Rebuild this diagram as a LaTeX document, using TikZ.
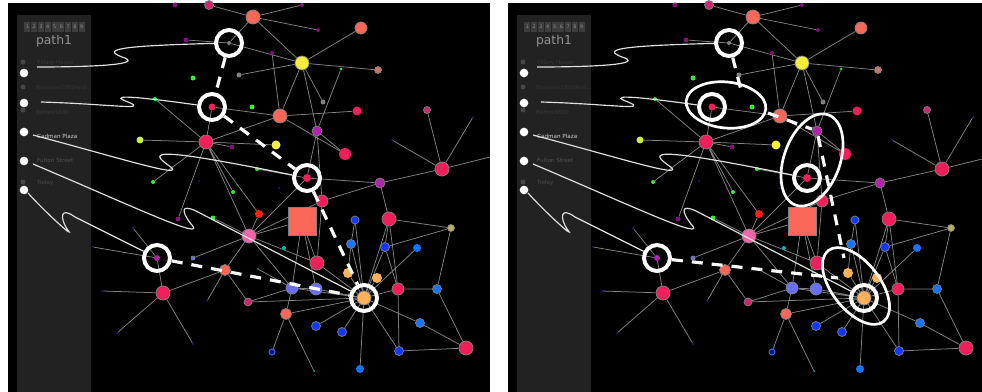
\documentclass[tikz,border=0pt]{standalone}
\usepackage{fontspec}
\setmainfont{DejaVu Sans}
\usetikzlibrary{positioning,shapes.geometric}

\definecolor{crim}{RGB}{242,30,92}
\definecolor{salm}{RGB}{250,102,88}
\definecolor{yel}{RGB}{246,238,60}
\definecolor{purp}{RGB}{176,36,170}
\definecolor{dpur}{RGB}{125,20,118}
\definecolor{grn}{RGB}{50,235,60}
\definecolor{lime}{RGB}{200,240,60}
\definecolor{gry}{RGB}{128,128,128}
\definecolor{blu}{RGB}{20,55,255}
\definecolor{azu}{RGB}{20,115,255}
\definecolor{peri}{RGB}{105,110,255}
\definecolor{orng}{RGB}{255,176,90}
\definecolor{hpink}{RGB}{245,100,170}
\definecolor{rdd}{RGB}{255,30,20}
\definecolor{oliv}{RGB}{185,175,95}
\definecolor{cyn}{RGB}{20,180,180}
\definecolor{nvy}{RGB}{30,30,160}
\definecolor{dpink}{RGB}{200,40,110}
\definecolor{bsalm}{RGB}{205,115,105}
\definecolor{side}{RGB}{34,34,34}
\definecolor{linkc}{RGB}{128,128,128}

\pgfdeclarelayer{back}
\pgfsetlayers{back,main}

\tikzset{
  vx/.style 2 args={circle,inner sep=0pt,fill=#1,draw=linkc,line width=0.6pt,minimum size=#2*0.6mm},
  sp/.style 2 args={circle,inner sep=0pt,fill=#1,minimum size=#2*0.6mm},
  lnk/.style={draw=linkc,line width=0.65pt},
  ring/.style={circle,draw=white,line width=3.4pt,inner sep=0pt,minimum size=7.8mm},
  trail/.style={draw=white,line width=2.7pt,dash pattern=on 3.3mm off 2.7mm},
  wire/.style={draw=white!88!black,line width=1pt},
  hull/.style={ellipse,draw=white,line width=2.3pt,inner sep=0pt},
  tag/.style={anchor=west,inner sep=0pt,font=\fontsize{4.8}{5}\selectfont},
  knob/.style={circle,fill=white,inner sep=0pt,minimum size=2.6mm},
  dimknob/.style={circle,fill=black!72,inner sep=0pt,minimum size=1.5mm}
}

\newcommand{\netpanel}{%
  \begin{pgfonlayer}{back}
    \fill[black] (8,3) rectangle (490,392);
    \fill[side] (17,15) rectangle (91,392);
  \end{pgfonlayer}
  % sidebar
  \foreach \k in {1,...,9}
    \node[fill=black!76,text=black!45,font=\fontsize{4.2}{5}\selectfont,
      minimum width=1.85mm,minimum height=3mm,inner sep=0pt] (pg\k) at ({20.6+6.8*\k},27) {\k};
  \node[text=black!42,font=\fontsize{10.5}{11}\selectfont] (title) at (54,41) {path1};
  \node[tag,text=black!78] (lb1) at (37,63) {Tillary House};
  \node[tag,text=black!80] (lb2) at (36,87) {Between1900And...};
  \node[tag,text=black!78] (lb3) at (36,112) {Before1800};
  \node[tag,text=black!18] (lb4) at (37,136) {Cadman Plaza};
  \node[tag,text=black!68] (lb5) at (37,160) {Fulton Street};
  \node[tag,text=black!72] (lb6) at (37,183) {Today};
  \node[dimknob] (d1) at (23,62) {};
  \node[dimknob] (d2) at (23,87) {};
  \node[dimknob] (d3) at (23,110) {};
  \node[dimknob] (d6) at (23,182) {};
  \node[knob] (k1) at (24,73) {};
  \node[knob] (k2) at (24,103) {};
  \node[knob] (k3) at (24,132) {};
  \node[knob] (k4) at (24,161) {};
  \node[knob] (k5) at (24,190) {};
  % network, top part
  \node[sp={dpur}{2.5}] (pu1) at (175,5) {};
  \node[vx={dpink}{4.5}] (sa0) at (209,5) {};
  \node[sp={dpur}{2.5}] (pu2) at (186,40) {};
  \node[sp={gry}{2}] (gy0) at (229,43) {};
  \node[sp={gry}{2.5}] (gr1) at (239,75) {};
  \node[sp={grn}{2.5}] (gn1) at (193,78) {};
  \node[sp={grn}{2}] (gn2) at (155,99) {};
  \node[sp={crim}{3.5}] (cr1) at (212,107) {};
  \node[vx={crim}{7}] (cr2) at (206,142) {};
  \node[sp={lime}{3.5}] (li1) at (140,140) {};
  \node[sp={dpur}{2.5}] (pu3) at (232,147) {};
  \node[sp={grn}{2}] (gn3) at (153,182) {};
  \node[sp={nvy}{1}] (nv1) at (199,181) {};
  \node[sp={grn}{2}] (gn4) at (233,192) {};
  \node[vx={salm}{7}] (sa1) at (253,17) {};
  \node[sp={dpur}{2}] (pu4) at (302,5) {};
  \node[sp={dpur}{2}] (pu5) at (318,30) {};
  \node[vx={salm}{6}] (sa2) at (361,28) {};
  \node[sp={dpur}{2}] (pu6) at (272,53) {};
  \node[vx={yel}{7}] (ye1) at (302,63) {};
  \node[sp={grn}{1.5}] (gn5) at (341,69) {};
  \node[vx={bsalm}{3.5}] (br1) at (378,70) {};
  \node[sp={grn}{2.5}] (gn6) at (252,107) {};
  \node[sp={gry}{2.5}] (gy2) at (323,102) {};
  \node[vx={salm}{7}] (sa3) at (280,116) {};
  \node[sp={crim}{4.5}] (cr3) at (357,111) {};
  \node[vx={purp}{5}] (pu7) at (317,131) {};
  \node[vx={dpink}{3.5}] (dp1) at (427,110) {};
  \node[sp={nvy}{1}] (nv2) at (473,117) {};
  \node[sp={yel}{4.5}] (ye2) at (276,145) {};
  \node[sp={crim}{6}] (cr4) at (345,154) {};
  \node[sp={nvy}{1}] (nv3) at (392,140) {};
  \node[sp={grn}{2}] (gn7) at (257,169) {};
  \node[sp={crim}{4}] (cr5) at (307,178) {};
  \node[vx={purp}{5}] (pu8) at (380,183) {};
  \node[vx={crim}{7}] (cr6) at (442,169) {};
  \node[sp={nvy}{1}] (nv4) at (279,188) {};
  \node[vx={crim}{6}] (cr7) at (322,201) {};
  \coordinate (rim) at (490,157);
  % network, lower part
  \node[sp={dpur}{2.5}] (pu9) at (178,219) {};
  \node[sp={grn}{2.5}] (gn8) at (213,218) {};
  \node[vx={hpink}{7}] (hp1) at (249,236) {};
  \node[sp={nvy}{1}] (nv5) at (133,228) {};
  \node[sp={nvy}{1}] (nv6) at (93,247) {};
  \node[sp={purp}{3}] (pu10) at (157,258) {};
  \node[vx={peri}{2}] (bl1) at (193,258) {};
  \node[vx={salm}{5.5}] (sa4) at (225,270) {};
  \node[vx={crim}{7}] (cr8) at (163,293) {};
  \node[sp={nvy}{1}] (nv7) at (102,291) {};
  \node[sp={nvy}{1}] (nv8) at (207,301) {};
  \node[vx={dpink}{4}] (dp2) at (248,302) {};
  \node[sp={nvy}{1}] (nv9) at (117,333) {};
  \node[sp={nvy}{1}] (nv10) at (193,344) {};
  \node[sp={rdd}{4}] (rd1) at (259,214) {};
  \node[draw=linkc,fill=salm,line width=0.8pt,inner sep=0pt,minimum size=8.4mm] (sq) at (302,221) {};
  \node[vx={blu}{4}] (bl2) at (355,220) {};
  \node[vx={crim}{7}] (cr9) at (389,219) {};
  \node[vx={oliv}{3.5}] (ol1) at (451,228) {};
  \node[sp={cyn}{2}] (cy1) at (284,248) {};
  \node[vx={azu}{4.5}] (az1) at (351,244) {};
  \node[vx={blu}{4.5}] (bl3) at (385,247) {};
  \node[sp={azu}{4}] (az2) at (417,248) {};
  \node[vx={crim}{7}] (cr10) at (317,263) {};
  \node[sp={cyn}{1}] (cy2) at (258,269) {};
  \node[sp={orng}{5}] (or1) at (348,273) {};
  \node[sp={orng}{5}] (or2) at (377,278) {};
  \node[vx={peri}{6}] (pw1) at (292,288) {};
  \node[vx={peri}{6}] (pw2) at (316,289) {};
  \node[vx={crim}{6}] (cr11) at (398,289) {};
  \node[vx={azu}{4.5}] (az3) at (437,289) {};
  \node[vx={orng}{7}] (or3) at (364,298) {};
  \node[vx={salm}{5.5}] (sa5) at (286,314) {};
  \node[vx={azu}{4.5}] (az4) at (420,323) {};
  \node[vx={blu}{4.5}] (bl4) at (316,326) {};
  \node[vx={blu}{4.5}] (bl5) at (342,332) {};
  \node[circle,fill=blu!45!black,draw=blu!80,line width=0.8pt,inner sep=0pt,minimum size=1.8mm] (bl6) at (272,352) {};
  \node[vx={blu}{4.5}] (bl7) at (399,351) {};
  \node[vx={crim}{7}] (cr12) at (466,348) {};
  \node[sp={azu}{4}] (az5) at (360,369) {};
  \node[sp={cyn}{1}] (cy3) at (314,371) {};
  % links
  \begin{pgfonlayer}{back}
    \draw[lnk] (gy0) -- (sa1) (gy0) -- (ye1) (pu2) -- (gy0) (sa0) -- (sa1)
      (sa1) -- (pu4) (sa1) -- (pu5) (sa1) -- (ye1) (sa2) -- (ye1)
      (ye1) -- (br1) (ye1) -- (sa3) (ye1) -- (pu7) (ye1) -- (gy2) (ye1) -- (gr1)
      (pu6) -- (sa3) (gn5) -- (pu7) (sa3) -- (cr3) (sa3) -- (cr4) (sa3) -- (cr1)
      (sa3) -- (cr2) (pu7) -- (cr5) (pu7) -- (cr7) (pu7) -- (cr4)
      (cr6) -- (dp1) (cr6) -- (nv2) (cr6) -- (nv3) (cr6) -- (pu8) (cr6) -- (rim)
      (cr5) -- (pu8) (pu8) -- (cr7) (pu8) -- (cr9) (gn7) -- (cr5)
      (cr2) -- (li1) (cr2) -- (pu3) (cr2) -- (gn3) (cr2) -- (gn4) (cr2) -- (gn2)
      (cr2) -- (cr1) (cr2) -- (ye2) (cr2) -- (hp1) (cr2) -- (rd1) (cr2) -- (pu9);
    \draw[lnk] (hp1) -- (cr5) (hp1) -- (rd1) (hp1) -- (sq) (hp1) -- (cr10)
      (hp1) -- (sa4) (hp1) -- (bl1) (hp1) -- (gn8) (hp1) -- (cr7) (hp1) -- (pw1)
      (pu10) -- (nv5) (pu10) -- (nv6) (pu10) -- (cr8)
      (cr8) -- (nv7) (cr8) -- (nv9) (cr8) -- (nv10) (cr8) -- (sa4)
      (sa4) -- (nv8) (sa4) -- (dp2) (sq) -- (cr10) (sq) -- (pw2) (sq) -- (pw1)
      (cr7) -- (cr10) (bl2) -- (or3) (bl2) -- (az1) (az1) -- (or1) (az1) -- (or3)
      (cr9) -- (ol1) (cr9) -- (bl3) (cr9) -- (cr11) (cr9) -- (or3)
      (bl3) -- (ol1) (bl3) -- (or3) (ol1) -- (az3) (az3) -- (cr12) (az3) -- (cr11)
      (az2) -- (or3) (az4) -- (cr12) (az4) -- (or3)
      (bl7) -- (cr12) (bl7) -- (or3) (bl7) -- (cr11)
      (or3) -- (or1) (or3) -- (or2) (or3) -- (pw2) (or3) -- (pw1) (or3) -- (bl4)
      (or3) -- (bl5) (or3) -- (az5) (or3) -- (cr10) (or3) -- (dp2) (or3) -- (cr11)
      (or3) -- (sa5) (pw1) -- (pw2) (pw1) -- (sa5) (pw1) -- (cy2)
      (sa5) -- (bl6) (sa5) -- (cy3) (dp2) -- (pw1) (cr11) -- (bl3);
  \end{pgfonlayer}
  % picked stops
  \node[ring] (c1) at (gy0) {};
  \node[ring] (c2) at (cr1) {};
  \node[ring] (c3) at (cr5) {};
  \node[ring] (c4) at (pu10) {};
  \node[ring] (c5) at (or3) {};
  % wiggly leaders from the list
  \coordinate (s1) at (37,67);
  \coordinate (s2) at (41,102);
  \coordinate (s3) at (33,135);
  \coordinate (s4) at (33,164);
  \coordinate (s5) at (28,193);
  \draw[wire] (s1) .. controls (100,67) and (145,64) .. (122,57) .. controls (104,50) and (112,46) .. (c1);
  \draw[wire] (s2) .. controls (110,104) and (150,111) .. (128,102) .. controls (112,96) and (118,94) .. (c2);
  \draw[wire] (s3) .. controls (120,158) and (192,181) .. (168,165) .. controls (150,152) and (150,146) .. (c3);
  \draw[wire] (s4) .. controls (130,205) and (210,243) .. (191,224) .. controls (181,211) and (181,204) .. (196,211) -- (c5);
  \draw[wire] (s5) .. controls (45,212) and (78,242) .. (67,229) .. controls (60,218) and (60,206) .. (75,217) -- (c4);
}

\begin{document}
\begin{tikzpicture}[x=0.3mm,y=-0.3mm]
  \useasboundingbox (0,0) rectangle (982,392);

  \begin{scope}[name prefix=L-]
    \netpanel
    \draw[trail] (c1) -- (c2);
    \draw[trail] (c2) -- (c3);
    \draw[trail] (c3) -- (c5);
    \draw[trail] (c4) -- (c5);
  \end{scope}

  \begin{scope}[shift={(500,0)},name prefix=R-]
    \netpanel
    \node[hull,minimum width=24mm,minimum height=13.8mm,rotate=-6] (e1) at (226,105) {};
    \node[hull,minimum width=16.8mm,minimum height=28.8mm,rotate=-20] (e2) at (312,160) {};
    \node[hull,minimum width=27mm,minimum height=14.4mm,rotate=-52] (e3) at (356,286) {};
    \coordinate (q1) at (242,94);
    \coordinate (q2) at (268,113);
    \coordinate (q3) at (344,258);
    \coordinate (q4) at (338,278);
    \draw[trail] (c1) -- (q1);
    \draw[trail] (q2) -- (pu7);
    \draw[trail] (pu7) -- (q3);
    \draw[trail] (c4) -- (q4);
  \end{scope}
\end{tikzpicture}
\end{document}
